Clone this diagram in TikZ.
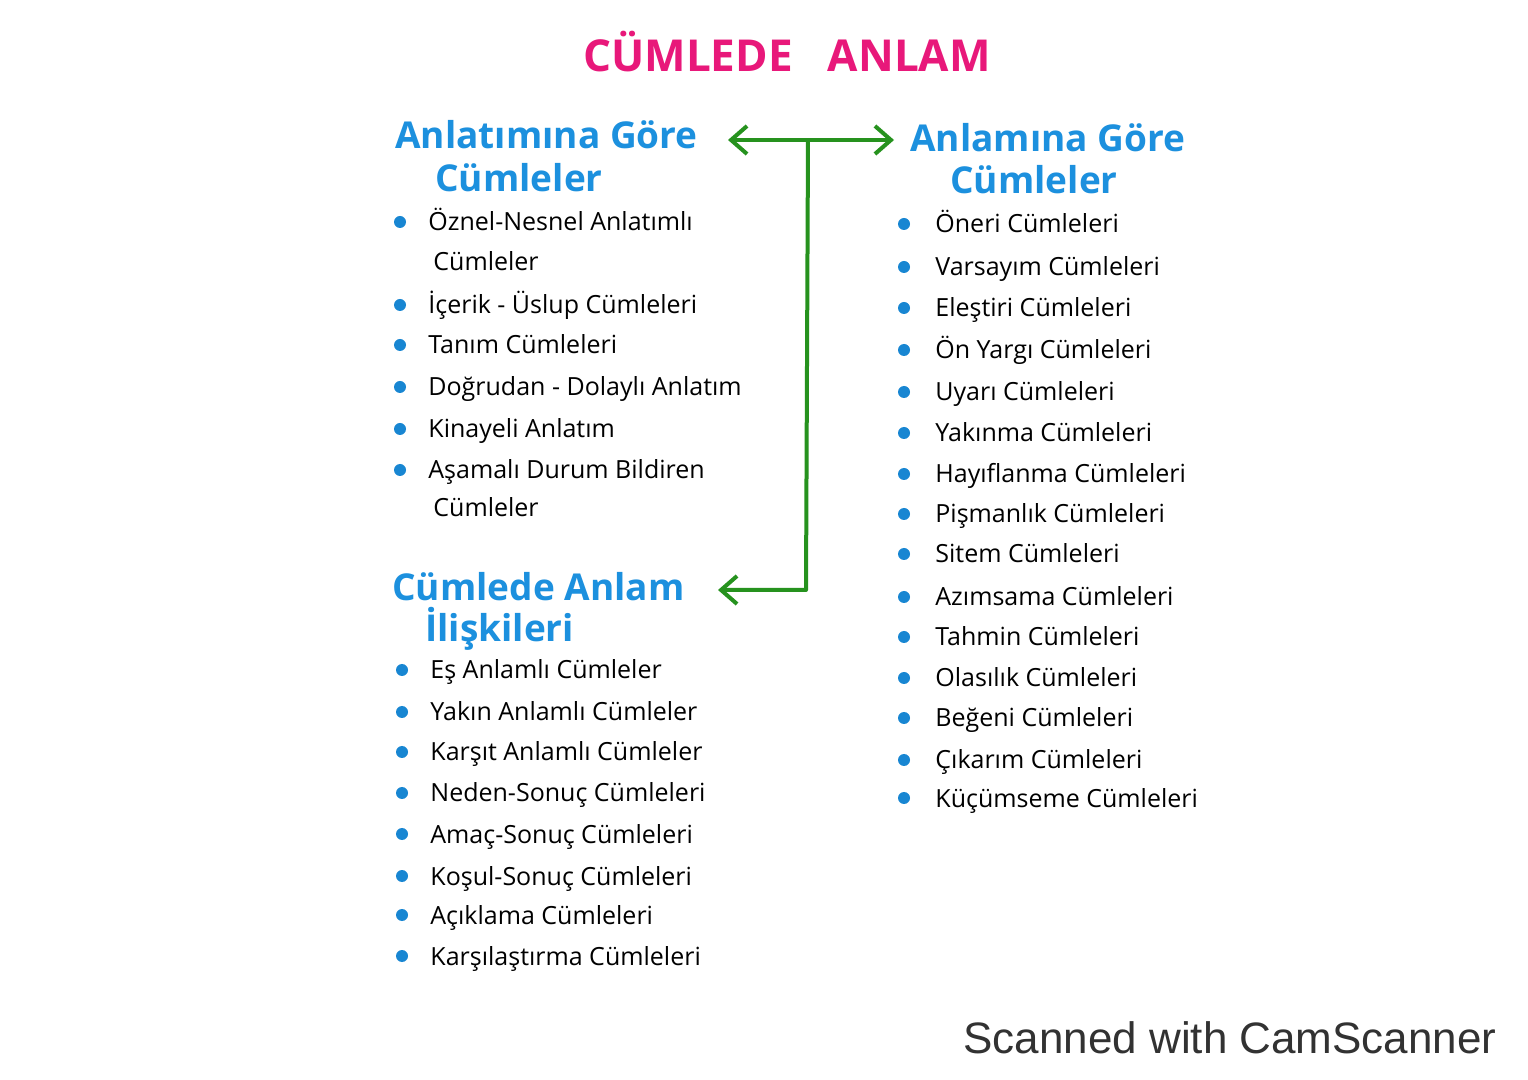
\documentclass[tikz,border=0pt]{standalone}
\usepackage{fontspec}
\setmainfont{Open Sans}
\newfontfamily\footfont{Liberation Sans}
\usetikzlibrary{arrows.meta}
\definecolor{titlepink}{RGB}{232,24,122}
\definecolor{headblue}{RGB}{28,144,222}
\definecolor{dotblue}{RGB}{24,134,210}
\definecolor{arrowgreen}{RGB}{38,146,30}
\definecolor{footgray}{RGB}{50,50,50}
\begin{document}
\begin{tikzpicture}[x=0.5pt,y=-0.5pt,
  item/.style={anchor=west,inner sep=0pt,text height=10pt,text depth=1pt,font=\fontsize{12.5}{15}\selectfont},
  head/.style={anchor=west,inner sep=0pt,text height=15pt,text depth=1pt,text=headblue,font=\fontsize{18.5}{21}\selectfont\bfseries},
  bul/.style={circle,fill=dotblue,inner sep=0pt,minimum size=6pt},
  arr/.style={draw=arrowgreen,line width=2pt,line join=round,
    -{Straight Barb[length=8pt,width=14pt,line width=2pt]}}]
\fill[white] (0,0) rectangle (1528,1080);
\useasboundingbox (0,0) rectangle (1528,1080);

% title
\node[inner sep=0pt,text=titlepink,font=\fontsize{22}{26}\selectfont\bfseries] (title) at (787,52) {CÜMLEDE\hspace{0.8em}ANLAM};

% headings
\node[head] (h1a) at (395,135) {Anlatımına Göre};
\node[head] (h1b) at (435,178) {Cümleler};
\node[head] (h2a) at (910,138) {Anlamına Göre};
\node[head] (h2b) at (950,180) {Cümleler};
\node[head] (h3a) at (392,587) {Cümlede Anlam};
\node[head] (h3b) at (425,628) {İlişkileri};

% connectors
\coordinate (j) at (808,140);
\coordinate (tipL) at (728,140);
\coordinate (tipR) at (894,140);
\coordinate (corner) at (806,590);
\coordinate (tipB) at (718,590);
\draw[arr] (j) -- (tipL);
\draw[arr] (j) -- (tipR);
\draw[arr] (j) -- (corner) -- (tipB);

% left list
\foreach \n/\y/\t in {l1/222/Öznel-Nesnel Anlatımlı, l2/305/İçerik - Üslup Cümleleri,
  l3/345/Tanım Cümleleri, l4/387/Doğrudan - Dolaylı Anlatım,
  l5/429/Kinayeli Anlatım, l6/470/Aşamalı Durum Bildiren}{
  \node[bul] (b\n) at (400,\y) {};
  \node[item] (\n) at (428,\y) {\t};
}
\node[item] (l1c) at (433,262) {Cümleler};
\node[item] (l6c) at (433,508) {Cümleler};

% right list
\foreach \n/\y/\t in {r1/224/Öneri Cümleleri, r2/267/Varsayım Cümleleri,
  r3/308/Eleştiri Cümleleri, r4/350/Ön Yargı Cümleleri,
  r5/392/Uyarı Cümleleri, r6/433/Yakınma Cümleleri,
  r7/474/Hayıflanma Cümleleri, r8/514/Pişmanlık Cümleleri,
  r9/554/Sitem Cümleleri, r10/597/Azımsama Cümleleri,
  r11/637/Tahmin Cümleleri, r12/678/Olasılık Cümleleri,
  r13/718/Beğeni Cümleleri, r14/760/Çıkarım Cümleleri,
  r15/798/Küçümseme Cümleleri}{
  \node[bul] (b\n) at (904,\y) {};
  \node[item] (\n) at (935,\y) {\t};
}

% bottom-left list
\foreach \n/\y/\t in {m1/670/Eş Anlamlı Cümleler, m2/712/Yakın Anlamlı Cümleler,
  m3/752/Karşıt Anlamlı Cümleler, m4/793/Neden-Sonuç Cümleleri,
  m5/834/Amaç-Sonuç Cümleleri, m6/876/Koşul-Sonuç Cümleleri,
  m7/915/Açıklama Cümleleri, m8/956/Karşılaştırma Cümleleri}{
  \node[bul] (b\n) at (402,\y) {};
  \node[item] (\n) at (430,\y) {\t};
}

% footer
\node[anchor=east,inner sep=0pt,text=footgray,font=\footfont\fontsize{22}{26}\selectfont] (foot) at (1497,1038) {Scanned with CamScanner};
\end{tikzpicture}
\end{document}
